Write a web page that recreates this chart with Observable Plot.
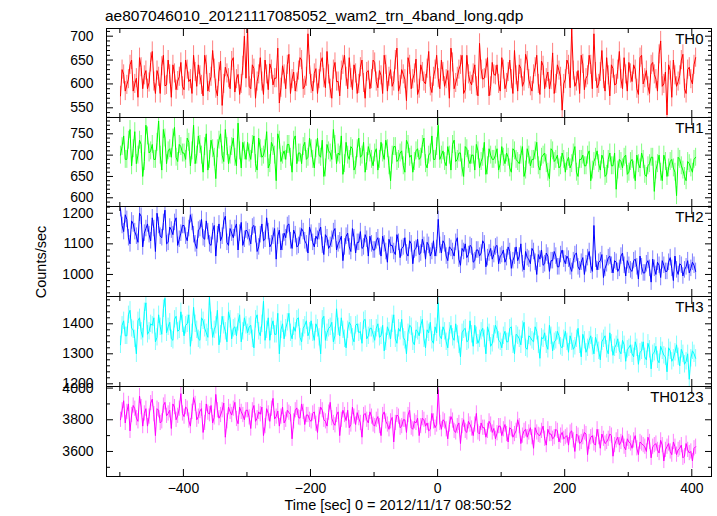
<!DOCTYPE html>
<html><head><meta charset="utf-8">
<script src="https://cdn.jsdelivr.net/npm/d3@7"></script>
<script src="https://cdn.jsdelivr.net/npm/@observablehq/plot@0.6"></script>
<style>
html,body{margin:0;padding:0;background:#fff;}
#chart{position:relative;width:717px;height:516px;overflow:hidden;font-family:"Liberation Sans",Arial,Helvetica,sans-serif;background:#fff;}
#overlay{position:absolute;left:0;top:0;}
</style></head><body><div id="chart"></div>
<script>
const title = "ae807046010_20121117085052_wam2_trn_4band_long.qdp";
const xLabel = "Time [sec] 0 = 2012/11/17 08:50:52";
const yLabel = "Counts/sec";
// bins: series "a" starts at tStartA, series "b" at tStartB, both every tStep seconds
const tStartA = -499, tStartB = -496.5, tStep = 5;
const xDomain = [-521, 431];
const xMajorTicks = [-400, -200, 0, 200, 400];
const xMinorTicks = [-500, -300, -100, 100, 300];
const bandNames = ["TH0", "TH1", "TH2", "TH3", "TH0123"];
const bandColors = ["#ff0000", "#00ff00", "#0000ff", "#00ffff", "#ff00ff"];
const bandErrors = [20, 21, 27, 29, 48];
const yDomains = [[529.7, 716.1], [579.6, 788.2], [928, 1222], [1191, 1491], [3442, 4010]];
const yMajorTicks = [[550, 600, 650, 700], [600, 650, 700, 750], [1000, 1100, 1200], [1200, 1300, 1400], [3600, 3800, 4000]];
const yMinorTicks = [
  [530,540,560,570,580,590,610,620,630,640,660,670,680,690,710],
  [580,590,610,620,630,640,660,670,680,690,710,720,730,740,760,770,780],
  [940,960,980,1020,1040,1060,1080,1120,1140,1160,1180,1220],
  [1220,1240,1260,1280,1320,1340,1360,1380,1420,1440,1460,1480],
  [3500,3700,3900]
];

const th0a = [
575,620,598,640,585,612,655,590,628,603,668,580,615,637,596,650,572,622,606,645,
588,630,610,660,595,618,575,640,602,670,590,625,555,635,612,648,583,620,600,700,
715,590,632,605,655,578,620,642,598,612,560,638,590,662,610,585,628,650,596,705,
600,622,580,645,612,668,590,630,605,575,640,615,655,588,622,600,650,570,628,610,
645,592,618,660,585,630,605,675,598,620,565,640,610,652,590,625,600,668,582,630,
612,650,595,628,675,590,615,640,580,660,605,622,595,685,610,632,575,645,618,600,
655,590,625,610,670,585,632,605,648,595,620,660,578,638,612,590,665,600,628,545,
610,640,715,595,628,660,588,618,640,705,592,625,610,655,575,632,600,668,590,620,
645,605,630,578,660,612,595,640,620,585,690,600,535,628,650,595,618,662,580,635,
600,655];
const th0b = [
630,585,610,650,600,572,635,618,590,645,605,628,580,660,598,620,640,588,615,595,
650,605,580,625,640,598,660,585,615,632,575,648,600,622,590,655,610,578,638,612,
595,640,570,620,605,650,588,630,612,675,592,620,640,580,625,603,655,590,615,640,
585,632,610,655,592,620,570,645,605,628,660,590,612,640,580,635,602,625,590,650,
605,628,580,640,615,595,650,585,630,610,655,590,622,578,640,605,632,595,615,660,
590,625,610,570,645,602,630,660,588,620,598,640,575,630,612,655,595,620,640,585,
630,602,650,580,618,640,595,662,610,585,635,600,648,590,625,608,580,640,615,600,
650,592,628,605,580,642,612,660,590,625,600,670,585,618,640,598,630,610,655,585,
622,640,590,655,600,628,580,645,610,662,595,625,640,572,618,605,650,590,630,610,
640];
const th1a = [
700,745,690,760,715,680,735,650,770,705,725,690,780,665,740,710,695,765,685,720,
705,740,675,770,700,725,660,750,690,715,645,735,700,760,680,720,695,775,670,710,
730,690,745,665,715,700,755,680,720,640,735,700,690,725,660,745,705,680,730,695,
715,670,740,695,650,725,705,760,680,700,655,730,690,715,675,740,700,660,720,690,
705,665,730,690,715,640,720,685,705,675,735,695,660,710,690,725,680,700,745,690,
770,700,685,720,665,735,690,705,650,715,680,700,725,670,695,655,715,690,700,665,
720,680,695,660,710,685,700,650,715,675,690,730,665,700,680,645,710,690,670,705,
660,695,680,720,650,690,675,700,640,685,710,665,690,655,705,675,620,690,670,700,
660,690,640,680,705,655,675,695,615,680,660,700,650,685,670,605,690,665,640,680,
660,695];
const th1b = [
720,690,735,675,755,700,725,685,745,710,690,730,700,760,680,715,740,695,725,705,
690,730,710,680,745,700,720,665,735,695,715,750,685,720,700,740,675,710,730,690,
705,725,680,740,695,715,670,730,700,750,685,710,725,695,735,680,705,720,690,740,
690,715,700,735,670,710,690,725,705,745,680,700,720,665,715,695,730,685,705,675,
715,690,705,735,675,700,720,690,710,660,725,700,685,715,695,740,670,705,690,720,
690,710,675,700,725,685,705,670,720,690,700,665,710,685,730,675,700,690,715,680,
695,705,670,715,690,680,720,665,700,690,710,675,695,705,660,715,685,700,675,690,
685,670,705,660,690,700,675,710,665,695,680,700,650,690,675,705,665,685,695,655,
685,665,700,670,690,650,680,695,665,700,640,685,670,690,660,695,675,650,685,670,
690];
const th2a = [
1215,1140,1180,1100,1165,1125,1200,1090,1150,1130,1185,1075,1160,1120,1210,1105,1145,1170,1095,1135,
1160,1110,1195,1130,1085,1150,1120,1175,1100,1140,1060,1165,1125,1190,1095,1135,1150,1080,1170,1115,
1140,1100,1160,1075,1130,1110,1185,1090,1125,1050,1145,1105,1120,1165,1085,1130,1095,1150,1110,1070,
1135,1090,1115,1155,1065,1120,1095,1140,1080,1110,1045,1125,1090,1150,1070,1105,1085,1130,1060,1100,
1080,1120,1060,1100,1040,1095,1075,1130,1055,1090,1070,1110,1035,1085,1065,1115,1050,1095,1075,1060,
1180,1070,1100,1045,1085,1060,1120,1030,1075,1055,1095,1040,1080,1060,1110,1025,1070,1050,1090,1035,
1065,1040,1090,1020,1060,1045,1100,1015,1055,1035,1075,1000,1050,1030,1070,1010,1045,1060,1025,1080,
1035,1050,1010,1065,1025,1040,1000,1055,1030,1160,1015,1045,990,1035,1060,1005,1040,1020,1070,995,
1030,1010,1050,985,1025,1005,1045,975,1020,1040,990,1030,1010,1055,980,1015,1035,995,1025,1005,
1040,1010];
const th2b = [
1160,1195,1120,1175,1140,1105,1190,1135,1165,1110,1150,1200,1125,1170,1100,1155,1130,1185,1115,1160,
1125,1150,1170,1100,1145,1180,1115,1140,1095,1160,1130,1110,1175,1105,1150,1120,1165,1135,1095,1145,
1120,1155,1130,1090,1165,1115,1140,1100,1150,1125,1080,1135,1160,1110,1145,1090,1125,1140,1100,1155,
1105,1125,1140,1095,1130,1085,1115,1150,1100,1125,1090,1135,1075,1120,1105,1140,1090,1115,1125,1080,
1110,1090,1125,1075,1115,1095,1065,1105,1085,1120,1060,1100,1080,1115,1070,1095,1105,1060,1110,1085,
1095,1110,1060,1090,1075,1105,1050,1085,1100,1065,1090,1045,1080,1070,1100,1055,1085,1065,1095,1060,
1080,1055,1075,1045,1090,1060,1035,1075,1050,1085,1040,1065,1080,1035,1060,1045,1075,1025,1065,1050,
1060,1025,1045,1070,1015,1055,1035,1075,1010,1050,1040,1065,1020,1055,1030,1045,1010,1060,1030,1045,
1015,1045,1025,1060,1005,1035,1020,1050,1000,1030,1045,1010,1040,1020,1060,1000,1030,1015,1045,1020,
1030];
const th3a = [
1330,1410,1360,1445,1380,1300,1420,1355,1470,1375,1395,1340,1430,1365,1485,1390,1350,1415,1375,1440,
1360,1400,1325,1455,1380,1345,1410,1370,1490,1355,1395,1330,1425,1375,1440,1350,1390,1405,1340,1420,
1370,1395,1320,1430,1360,1475,1380,1345,1410,1365,1300,1400,1385,1435,1350,1375,1420,1340,1395,1360,
1410,1345,1385,1300,1425,1370,1390,1340,1450,1360,1380,1320,1405,1355,1395,1370,1335,1415,1360,1385,
1345,1400,1360,1310,1390,1350,1430,1335,1375,1355,1300,1395,1340,1380,1360,1415,1320,1370,1345,1390,
1470,1350,1375,1320,1395,1345,1365,1290,1380,1340,1410,1325,1360,1350,1385,1300,1370,1335,1395,1345,
1320,1375,1340,1390,1300,1360,1330,1405,1315,1355,1340,1375,1285,1350,1330,1395,1310,1345,1360,1320,
1375,1305,1340,1325,1385,1290,1345,1320,1360,1300,1335,1280,1350,1315,1370,1295,1330,1310,1345,1275,
1320,1300,1340,1265,1310,1290,1335,1250,1305,1280,1325,1295,1240,1310,1285,1330,1260,1300,1275,1215,
1310,1285];
const th3b = [
1395,1360,1430,1385,1350,1410,1375,1440,1365,1400,1420,1355,1390,1450,1370,1405,1345,1425,1380,1400,
1395,1430,1370,1400,1350,1420,1385,1355,1410,1380,1445,1365,1395,1340,1415,1385,1360,1430,1375,1395,
1390,1350,1415,1375,1400,1345,1420,1390,1365,1435,1380,1350,1405,1370,1390,1415,1355,1385,1410,1375,
1370,1400,1355,1415,1345,1385,1405,1360,1390,1420,1350,1380,1395,1340,1400,1375,1410,1350,1385,1365,
1385,1355,1395,1340,1375,1400,1350,1385,1415,1345,1370,1390,1330,1375,1395,1350,1380,1405,1335,1370,
1360,1390,1340,1375,1355,1400,1330,1370,1385,1345,1365,1395,1335,1375,1350,1390,1325,1365,1380,1340,
1360,1340,1385,1330,1365,1350,1380,1320,1360,1345,1390,1330,1355,1370,1315,1360,1340,1375,1325,1350,
1340,1360,1315,1350,1330,1365,1305,1345,1325,1355,1310,1340,1360,1300,1335,1320,1350,1300,1330,1315,
1330,1290,1320,1305,1340,1280,1315,1300,1325,1270,1310,1290,1320,1275,1305,1290,1315,1265,1300,1285,
1300];
const th0123a = [
3800,3920,3850,3730,3890,3810,3950,3760,3870,3820,3930,3700,3860,3790,3910,3840,3745,3880,3825,3965,
3820,3870,3760,3940,3800,3855,3720,3900,3835,3780,3960,3810,3860,3690,3880,3830,3910,3775,3850,3800,
3860,3745,3890,3810,3835,3700,3870,3790,3935,3820,3760,3880,3800,3845,3680,3860,3815,3900,3770,3830,
3790,3850,3720,3880,3800,3760,3910,3780,3830,3700,3860,3795,3750,3880,3770,3810,3690,3840,3780,3820,
3760,3820,3700,3850,3770,3790,3660,3830,3750,3800,3720,3860,3740,3780,3700,3810,3760,3730,3840,3750,
3990,3740,3790,3680,3820,3730,3760,3650,3800,3720,3770,3700,3840,3710,3750,3690,3790,3720,3680,3760,
3700,3770,3660,3740,3710,3800,3650,3730,3690,3750,3620,3720,3700,3760,3640,3710,3680,3740,3660,3720,
3690,3640,3730,3600,3700,3660,3720,3580,3690,3650,3740,3620,3680,3660,3710,3570,3670,3640,3700,3610,
3660,3620,3700,3580,3650,3630,3690,3560,3640,3610,3670,3540,3630,3600,3660,3580,3620,3560,3650,3590,
3540,3630];
const th0123b = [
3860,3780,3900,3830,3870,3790,3880,3840,3760,3905,3835,3870,3780,3890,3825,3860,3900,3800,3870,3840,
3880,3795,3850,3900,3820,3870,3780,3845,3890,3815,3860,3830,3905,3790,3850,3870,3805,3880,3830,3860,
3815,3860,3790,3850,3880,3760,3840,3870,3805,3855,3820,3780,3860,3835,3790,3875,3810,3850,3830,3800,
3840,3775,3830,3860,3790,3845,3810,3765,3850,3800,3830,3860,3770,3820,3845,3780,3830,3800,3850,3770,
3800,3760,3830,3790,3740,3815,3780,3820,3760,3800,3830,3750,3790,3810,3760,3800,3780,3740,3790,3770,
3780,3800,3740,3770,3795,3720,3780,3760,3730,3790,3745,3770,3720,3780,3750,3730,3770,3745,3715,3760,
3740,3710,3750,3690,3730,3760,3700,3740,3720,3690,3750,3705,3730,3680,3740,3710,3690,3730,3700,3680,
3700,3720,3670,3710,3650,3690,3710,3660,3700,3640,3690,3710,3650,3680,3700,3640,3690,3660,3630,3680,
3650,3670,3620,3660,3640,3600,3660,3630,3650,3590,3640,3610,3650,3580,3630,3610,3640,3570,3610,3600,
3620];
const bandSeriesA = [th0a, th1a, th2a, th3a, th0123a];
const bandSeriesB = [th0b, th1b, th2b, th3b, th0123b];

// layout (pixels)
const W = 717, H = 516;
const panelEdges = [28, 117, 206, 296, 386, 476];
const mLeft = 106, mRight = 6;
const tickFont = 14;
const majorLen = 7, minorLen = 4;

const chart = document.getElementById("chart");

function inwardTicks(axis, ticks, anchor, len) {
  const inset = {};
  inset["inset" + anchor[0].toUpperCase() + anchor.slice(1)] = len;
  return axis(ticks, {anchor, tickSize: len, fill: "none", label: null, stroke: "black", ...inset});
}

bandSeriesA.forEach((valsA, i) => {
  const valsB = bandSeriesB[i];
  const rows = [];
  valsA.forEach((v, j) => {
    rows.push({t: tStartA + j * tStep, v, e: bandErrors[i]});
    if (j < valsB.length) rows.push({t: tStartB + j * tStep, v: valsB[j], e: bandErrors[i]});
  });
  const top = panelEdges[i], bottom = panelEdges[i + 1];
  const ph = bottom - top;
  const last = i === bandSeriesA.length - 1;
  const mt = 20, mb = last ? 40 : 20;
  const marks = [
    Plot.ruleX(rows, {x: "t", y1: d => d.v - d.e, y2: d => d.v + d.e, stroke: bandColors[i], strokeOpacity: 0.5, strokeWidth: 1, clip: true}),
    Plot.lineY(rows, {x: "t", y: "v", stroke: bandColors[i], strokeWidth: 1, clip: true}),
    Plot.frame({stroke: "black", strokeWidth: 1}),
    Plot.axisY(yMajorTicks[i], {anchor: "left", tickSize: 0, tickPadding: 13, fontSize: tickFont, label: null, fill: "black", tickFormat: "d"}),
    inwardTicks(Plot.axisY, yMajorTicks[i], "left", majorLen),
    inwardTicks(Plot.axisY, yMinorTicks[i], "left", minorLen),
    inwardTicks(Plot.axisY, yMajorTicks[i], "right", majorLen),
    inwardTicks(Plot.axisY, yMinorTicks[i], "right", minorLen),
    inwardTicks(Plot.axisX, xMajorTicks, "top", majorLen),
    inwardTicks(Plot.axisX, xMinorTicks, "top", minorLen),
    inwardTicks(Plot.axisX, xMajorTicks, "bottom", majorLen),
    inwardTicks(Plot.axisX, xMinorTicks, "bottom", minorLen),
    Plot.text([bandNames[i]], {frameAnchor: "top-right", dx: -8, dy: 5, fontSize: 15, fill: "black"})
  ];
  if (last) {
    marks.push(Plot.axisX(xMajorTicks, {anchor: "bottom", tickSize: 0, tickPadding: 7, fontSize: tickFont, label: null, fill: "black", tickFormat: "d"}));
  }
  const svg = Plot.plot({
    width: W,
    height: ph + mt + mb,
    marginLeft: mLeft,
    marginRight: mRight,
    marginTop: mt,
    marginBottom: mb,
    x: {domain: xDomain},
    y: {domain: yDomains[i]},
    style: {fontFamily: '"Liberation Sans", Arial, Helvetica, sans-serif', background: "transparent", overflow: "visible", color: "black"},
    marks
  });
  svg.style.position = "absolute";
  svg.style.left = "0px";
  svg.style.top = (top - mt) + "px";
  svg.style.maxWidth = "none";
  chart.appendChild(svg);
});

// overlay texts
const ns = "http://www.w3.org/2000/svg";
const ov = document.createElementNS(ns, "svg");
ov.setAttribute("id", "overlay");
ov.setAttribute("width", W);
ov.setAttribute("height", H);
ov.style.fontFamily = '"Liberation Sans", Arial, Helvetica, sans-serif';
function addText(str, attrs) {
  const t = document.createElementNS(ns, "text");
  for (const k in attrs) t.setAttribute(k, attrs[k]);
  t.textContent = str;
  ov.appendChild(t);
}
addText(title, {x: 105, y: 21, "font-size": 15.5, fill: "black"});
addText(xLabel, {x: 398, y: 510, "font-size": 14.5, fill: "black", "text-anchor": "middle"});
addText(yLabel, {x: 0, y: 0, "font-size": 14.5, fill: "black", "text-anchor": "middle", transform: "translate(46,262) rotate(-90)"});
chart.appendChild(ov);
</script>
</body></html>
